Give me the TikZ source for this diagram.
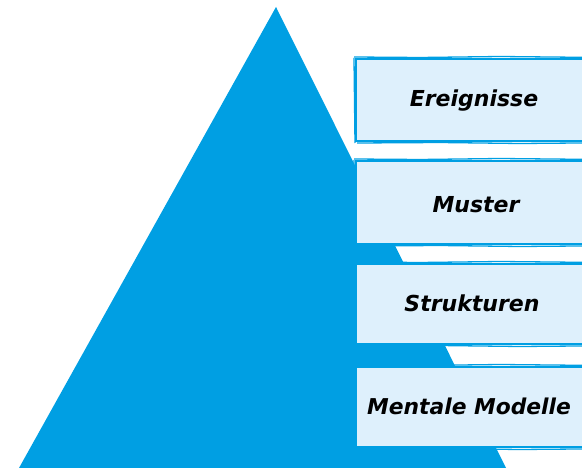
\documentclass[tikz,border=0pt]{standalone}
\usepackage{fontspec}
\setmainfont{DejaVu Sans}
\definecolor{pyrblue}{RGB}{0,159,227}
\definecolor{boxfill}{RGB}{222,240,252}
\begin{document}
\begin{tikzpicture}[x=1pt,y=-1pt,
  levelbox/.style={fill=boxfill,draw=pyrblue,line width=2.6pt},
  sketch/.style={draw=pyrblue,line width=1.3pt},
  label/.style={font=\fontsize{22}{26}\selectfont\bfseries\itshape,text=black,anchor=center}]
\useasboundingbox (0,0) rectangle (582,468);
\clip (0,0) rectangle (582,468);
\fill[pyrblue] (276,7) coordinate (apex) -- (19,468) coordinate (bl) -- (506,468) coordinate (br) -- cycle;
% boxes
\foreach \t/\b/\n in {59/141/b1,161/244/b2,264/344/b3,367/447/b4}{
  \draw[levelbox] (356,\t) rectangle (600,\b);
  \draw[sketch] (354,\t-2) -- (420,\t-1.5) -- (500,\t-2.5) -- (600,\t-1.5);
  \draw[sketch] (357,\b+2) -- (440,\b+1.5) -- (520,\b+2.5) -- (600,\b+1.8);
  \draw[sketch] (354,\t-1) -- (355,\b+2);
}
\node[label] (e) at (474,101) {Ereignisse};
\node[label] (m) at (476,205) {Muster};
\node[label] (s) at (472,303) {Strukturen};
\node[label,font=\fontsize{21.8}{25}\selectfont\bfseries\itshape,anchor=west,inner sep=0pt] (mm) at (367,406) {Mentale Modelle};
\end{tikzpicture}
\end{document}
